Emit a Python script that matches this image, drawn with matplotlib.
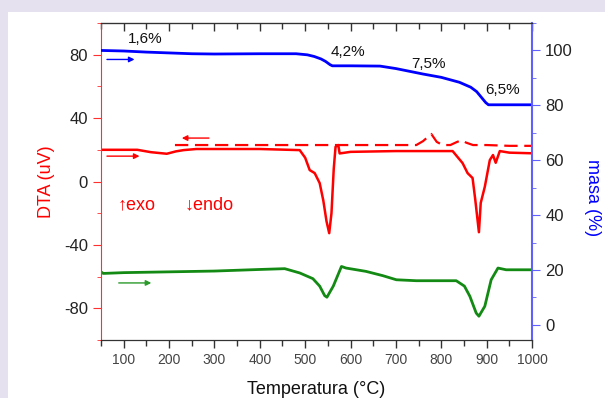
import matplotlib.pyplot as plt
from matplotlib.patches import Rectangle
from matplotlib.ticker import MultipleLocator

plt.rcParams['font.family'] = ['Liberation Sans', 'DejaVu Sans']
plt.rcParams['axes.unicode_minus'] = False

# masa (%) - TG curve
t_mass = [50, 100, 150, 200, 250, 300, 400, 480, 505, 520, 535, 545, 555, 560,
          600, 665, 700, 730, 760, 800, 840, 865, 878, 890, 898, 904, 950, 1000]
mass = [100.0, 99.8, 99.4, 99.1, 98.8, 98.7, 98.8, 98.8, 98.4, 97.8, 96.9, 96.0,
        94.8, 94.4, 94.4, 94.3, 93.4, 92.4, 91.4, 90.2, 88.4, 86.6, 85.0, 82.6,
        81.0, 80.2, 80.2, 80.2]

# DTA heating
t_dta = [50, 130, 160, 195, 215, 232, 260, 300, 400, 488, 500, 510, 521, 532,
         540, 547, 553, 558, 563, 567, 573, 576, 600, 700, 825, 847, 858, 869,
         875, 883, 887, 896, 907, 914, 920, 929, 950, 1000]
dta = [20, 20, 18.5, 17.5, 19, 19.8, 20.5, 20.5, 20.5, 19.8, 15, 7.2, 5.3, -1,
       -12, -25, -32.6, -20, 8, 21.9, 23, 17.7, 18.7, 19.2, 19.2, 11.6, 5.3, 2.2,
       -11.6, -32, -13.5, -3.3, 13.5, 16.7, 11.8, 19.2, 18.2, 17.8]

# DTA cooling (dashed)
t_cool = [213, 300, 400, 500, 600, 700, 745, 760, 778, 790, 803, 820, 835, 845,
          855, 870, 900, 950, 1000]
dta_cool = [23, 23, 23, 23, 23, 23, 23, 25.5, 30, 25, 23, 23, 25, 26, 24.5, 23,
            23, 22.5, 22.5]

# green curve
t_g = [50, 55, 100, 200, 300, 400, 455, 488, 517, 532, 543, 548, 562, 580, 590,
       634, 671, 701, 745, 833, 851, 863, 877, 883, 896, 910, 925, 943, 995, 1000]
g = [-57, -58, -57.5, -57, -56.5, -55.5, -55, -57.7, -61.3, -66, -72, -73, -66,
     -53.6, -54.6, -56.7, -59.4, -62, -62.6, -62.6, -66, -72.4, -83, -85, -78.7,
     -62, -54.6, -55.7, -55.7, -55.7]

steps = ['1,6%', '4,2%', '7,5%', '6,5%']
step_t = [147, 594, 772, 935]
step_y = [89.6, 81.4, 74, 58]

fig = plt.figure(figsize=(6.05, 3.98), dpi=100, facecolor='#e5e1ee')
fig.add_artist(Rectangle((8/605, 0), 1, 1 - 12/398, transform=fig.transFigure,
                         facecolor='white', edgecolor='none', zorder=-10))

ax = fig.add_axes([101/605, 1 - 340/398, 431/605, 317/398])
ax.patch.set_alpha(0)
ax2 = ax.twinx()
ax2.patch.set_alpha(0)

ax.plot(t_dta, dta, color='#ff0000', lw=1.8)
ax.plot(t_cool, dta_cool, color='#ff0000', lw=1.6, dashes=(6, 3))
ax.plot(t_g, g, color='#138a13', lw=2)
ax2.plot(t_mass, mass, color='#0000ff', lw=2)

ax.set_xlim(50, 1000)
ax.set_ylim(-100, 100)
ax2.set_ylim(-5.5, 110)

ax.xaxis.set_major_locator(MultipleLocator(100))
ax.xaxis.set_minor_locator(MultipleLocator(50))
ax.yaxis.set_major_locator(MultipleLocator(40))
ax.yaxis.set_minor_locator(MultipleLocator(20))
ax2.yaxis.set_major_locator(MultipleLocator(20))
ax2.yaxis.set_minor_locator(MultipleLocator(10))

ax.tick_params(axis='x', which='both', direction='out', top=False,
               labelsize=10, labelcolor='#444444', color='#333333', width=1)
ax.tick_params(axis='x', which='major', length=6)
ax.tick_params(axis='x', which='minor', length=4)
ax.tick_params(axis='y', which='both', colors='#ff3030', labelcolor='#222222',
               labelsize=12)
ax.tick_params(axis='y', which='major', length=6)
ax.tick_params(axis='y', which='minor', length=3)
ax2.tick_params(axis='y', which='both', colors='#6060ff', labelcolor='#222222',
                labelsize=12)
ax2.tick_params(axis='y', which='major', length=6)
ax2.tick_params(axis='y', which='minor', length=3)

# inward ticks along the top edge
top = ax.secondary_xaxis('top')
top.xaxis.set_major_locator(MultipleLocator(100))
top.xaxis.set_minor_locator(MultipleLocator(50))
top.tick_params(axis='x', which='both', direction='in', labeltop=False,
                color='#333333', width=1)
top.tick_params(axis='x', which='major', length=6)
top.tick_params(axis='x', which='minor', length=4)
top.spines['top'].set_color('#333333')

ax.spines['left'].set_color('#ff3030')
ax2.spines['left'].set_visible(False)
ax2.spines['right'].set_color('#6060ff')
ax2.spines['right'].set_linewidth(1.5)
ax.spines['right'].set_visible(False)
ax2.spines['top'].set_color('#333333')
ax2.spines['bottom'].set_color('#333333')

ax.set_xlabel('Temperatura (°C)', fontsize=13, color='#111111', labelpad=10)
ax.set_ylabel('DTA (uV)', fontsize=13, color='#ff0000', labelpad=6)
ax2.set_ylabel('masa (%)', fontsize=13, color='#0000ff', rotation=-90)
ax2.yaxis.set_label_coords(1.16, 0.45)

for s, t, y in zip(steps, step_t, step_y):
    ax.text(t, y, s, fontsize=11, ha='center', va='center', color='#111111')

ax.text(87, -15, '↑exo', fontsize=13, color='#ff0000', va='center')
ax.text(234, -15, '↓endo', fontsize=13, color='#ff0000', va='center')

ap = dict(arrowstyle='-|>', lw=1, mutation_scale=8)
ax.annotate('', xy=(130, 77), xytext=(57, 77),
            arrowprops=dict(ap, color='#0000ff'))
ax.annotate('', xy=(141, 16), xytext=(57, 16),
            arrowprops=dict(ap, color='#ff0000'))
ax.annotate('', xy=(222, 27.4), xytext=(294, 27.4),
            arrowprops=dict(ap, color='#ff0000'))
ax.annotate('', xy=(167, -64), xytext=(83, -64),
            arrowprops=dict(ap, color='#2a9a2a'))

fig.savefig('out.png', dpi=100, facecolor=fig.get_facecolor())
